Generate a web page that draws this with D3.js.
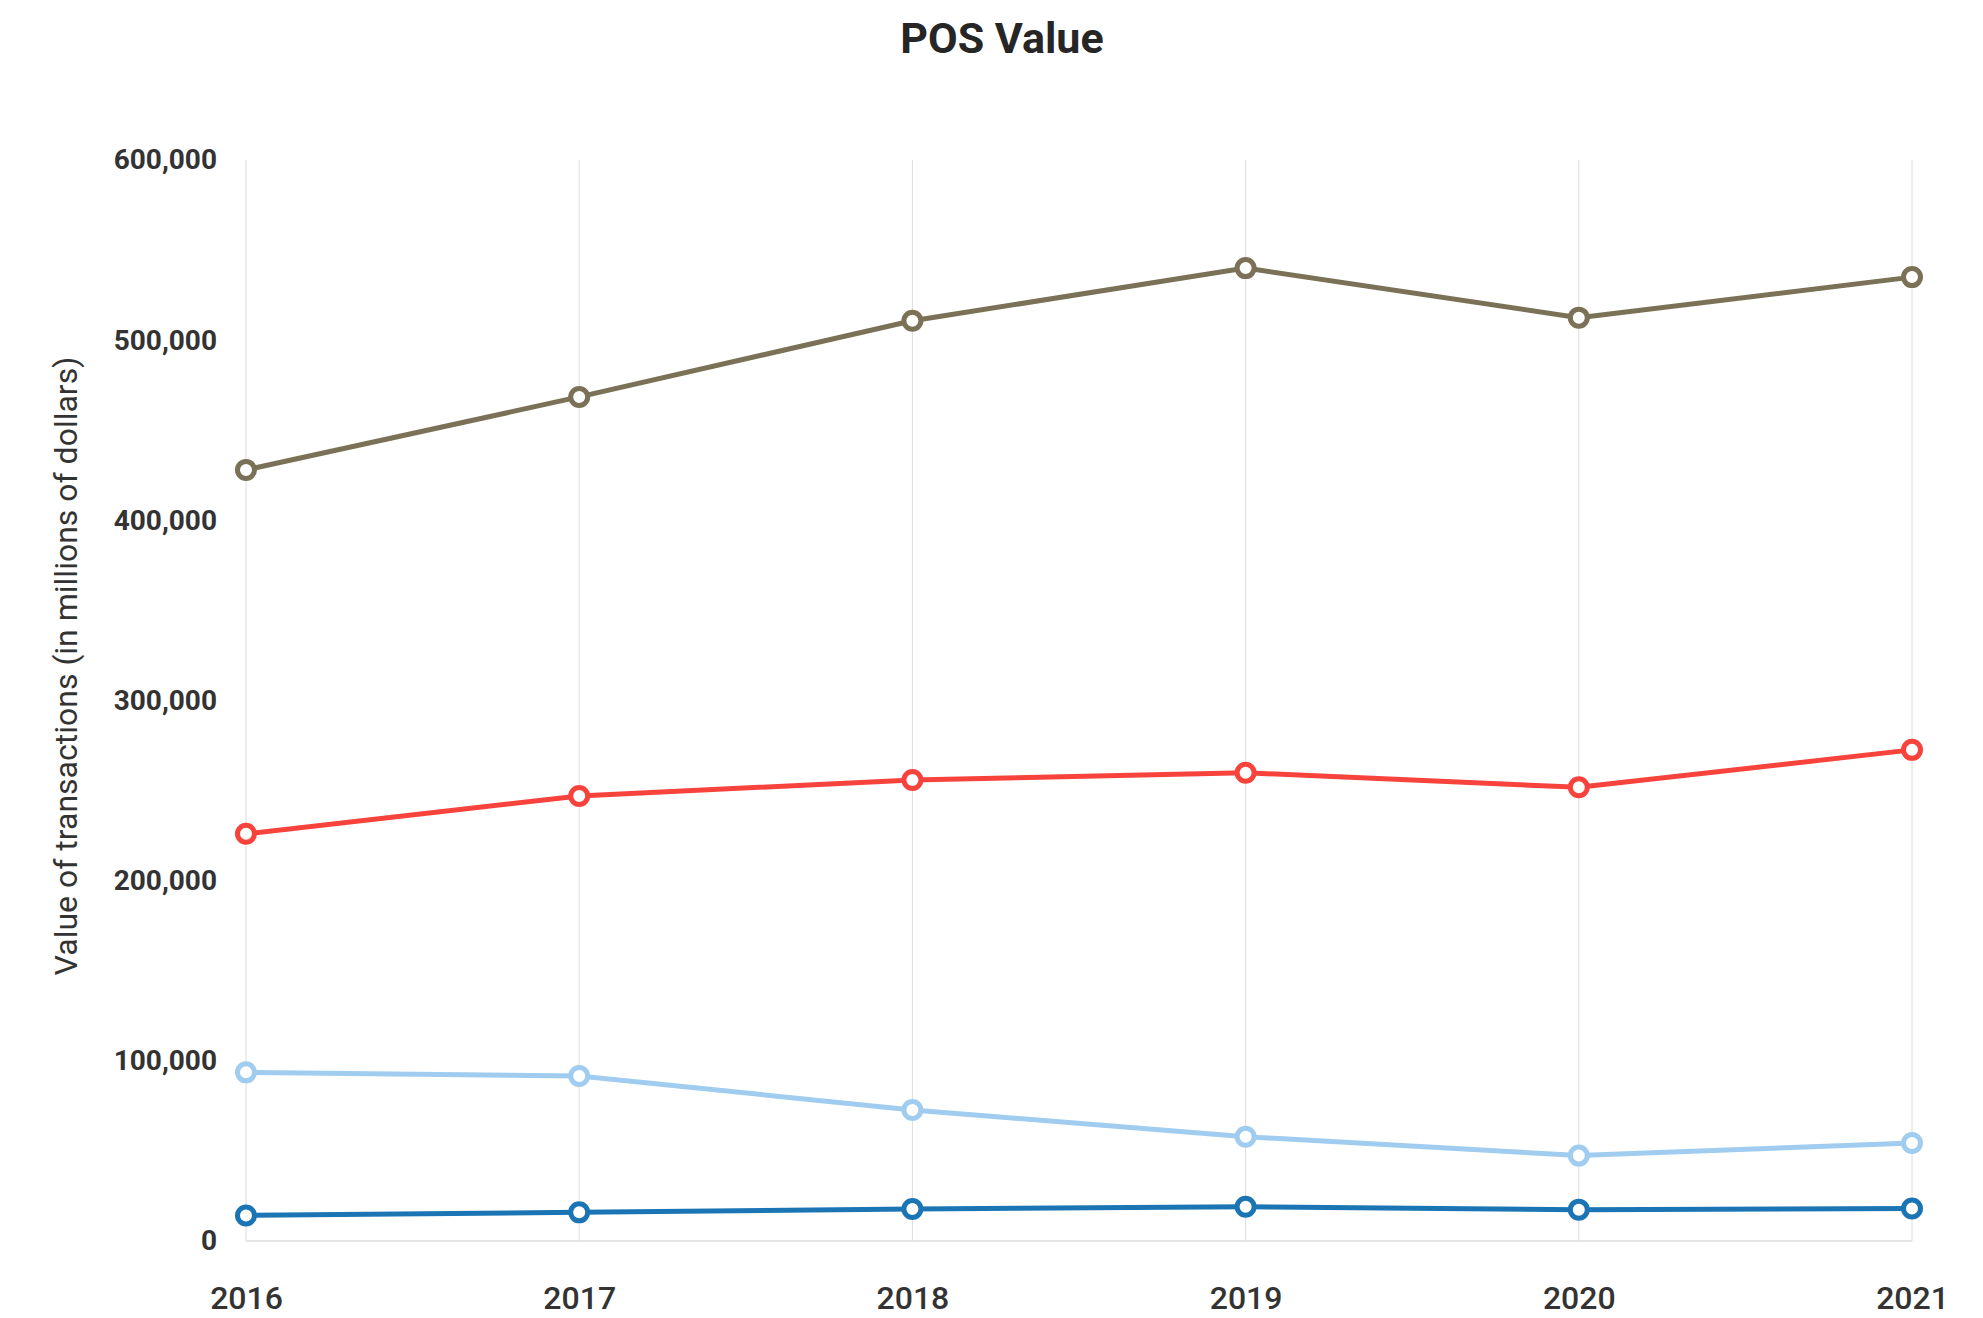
<!DOCTYPE html>
<html>
<head>
<meta charset="utf-8">
<script src="https://cdn.jsdelivr.net/npm/d3@7"></script>
<style>
  body { margin: 0; background: #fff; }
  text { font-family: Roboto, "Noto Sans", sans-serif; }
</style>
</head>
<body>
<div id="chart"></div>
<script>
const years = ['2016', '2017', '2018', '2019', '2020', '2021'];
const seriesTop = [428000, 468500, 510800, 540000, 512500, 535000];
const seriesRed = [226000, 247000, 255900, 259900, 251800, 272600];
const seriesLight = [93600, 91600, 72700, 57900, 47400, 54400];
const seriesDark = [14200, 15900, 17800, 19000, 17400, 18000];
const yTicks = [0, 100000, 200000, 300000, 400000, 500000, 600000];

const width = 1983;
const height = 1318;
const margin = { top: 160, right: 71, bottom: 77, left: 246 };

const svg = d3.select('#chart')
    .append('svg')
        .attr('width', width)
        .attr('height', height);

const x = d3.scalePoint()
    .domain(years)
    .range([margin.left, width - margin.right]);

const y = d3.scaleLinear()
    .domain([0, 600000])
    .range([height - margin.bottom, margin.top]);

// title
svg.append('text')
    .attr('x', 1002)
    .attr('y', 53)
    .attr('text-anchor', 'middle')
    .attr('font-size', 43)
    .attr('font-weight', 700)
    .attr('fill', '#262626')
    .text('POS Value');

// vertical grid lines
svg.append('g')
    .selectAll('line')
    .data(years)
    .join('line')
        .attr('x1', d => x(d))
        .attr('x2', d => x(d))
        .attr('y1', y(600000))
        .attr('y2', y(0))
        .attr('stroke', '#dcdcdc')
        .attr('stroke-width', 1);

// baseline
svg.append('line')
    .attr('x1', x(years[0]))
    .attr('x2', x(years[years.length - 1]))
    .attr('y1', y(0))
    .attr('y2', y(0))
    .attr('stroke', '#dcdcdc')
    .attr('stroke-width', 1.5);

// y axis
const yAxis = svg.append('g')
    .attr('transform', `translate(${margin.left}, 0)`)
    .call(d3.axisLeft(y).tickValues(yTicks).tickFormat(d3.format(',')).tickSize(0).tickPadding(29));
yAxis.select('.domain').remove();
yAxis.selectAll('text')
    .attr('font-family', 'Roboto, sans-serif')
    .attr('font-size', 28)
    .attr('font-weight', 700)
    .attr('fill', '#333');

// x axis
const xAxis = svg.append('g')
    .attr('transform', `translate(0, ${y(0)})`)
    .call(d3.axisBottom(x).tickSize(0).tickPadding(45));
xAxis.select('.domain').remove();
xAxis.selectAll('text')
    .attr('font-family', 'Roboto, sans-serif')
    .attr('font-size', 32)
    .attr('font-weight', 500)
    .attr('fill', '#333');

// y axis title
svg.append('text')
    .attr('transform', 'translate(77, 666) rotate(-90)')
    .attr('text-anchor', 'middle')
    .attr('font-size', 32)
    .attr('fill', '#333')
    .text('Value of transactions (in millions of dollars)');

const allSeries = [
    { values: seriesTop, color: '#7a7156' },
    { values: seriesRed, color: '#f8433d' },
    { values: seriesLight, color: '#a0cdef' },
    { values: seriesDark, color: '#1b75b5' }
];

const line = d3.line()
    .x((d, i) => x(years[i]))
    .y(d => y(d));

const seriesGroup = svg.selectAll('g.series')
    .data(allSeries)
    .join('g')
        .attr('class', 'series');

seriesGroup.append('path')
    .attr('d', s => line(s.values))
    .attr('fill', 'none')
    .attr('stroke', s => s.color)
    .attr('stroke-width', 5);

seriesGroup.selectAll('circle')
    .data(s => s.values.map(v => ({ v, color: s.color })))
    .join('circle')
        .attr('cx', (d, i) => x(years[i]))
        .attr('cy', d => y(d.v))
        .attr('r', 8.5)
        .attr('fill', '#fff')
        .attr('stroke', d => d.color)
        .attr('stroke-width', 5);
</script>
</body>
</html>
